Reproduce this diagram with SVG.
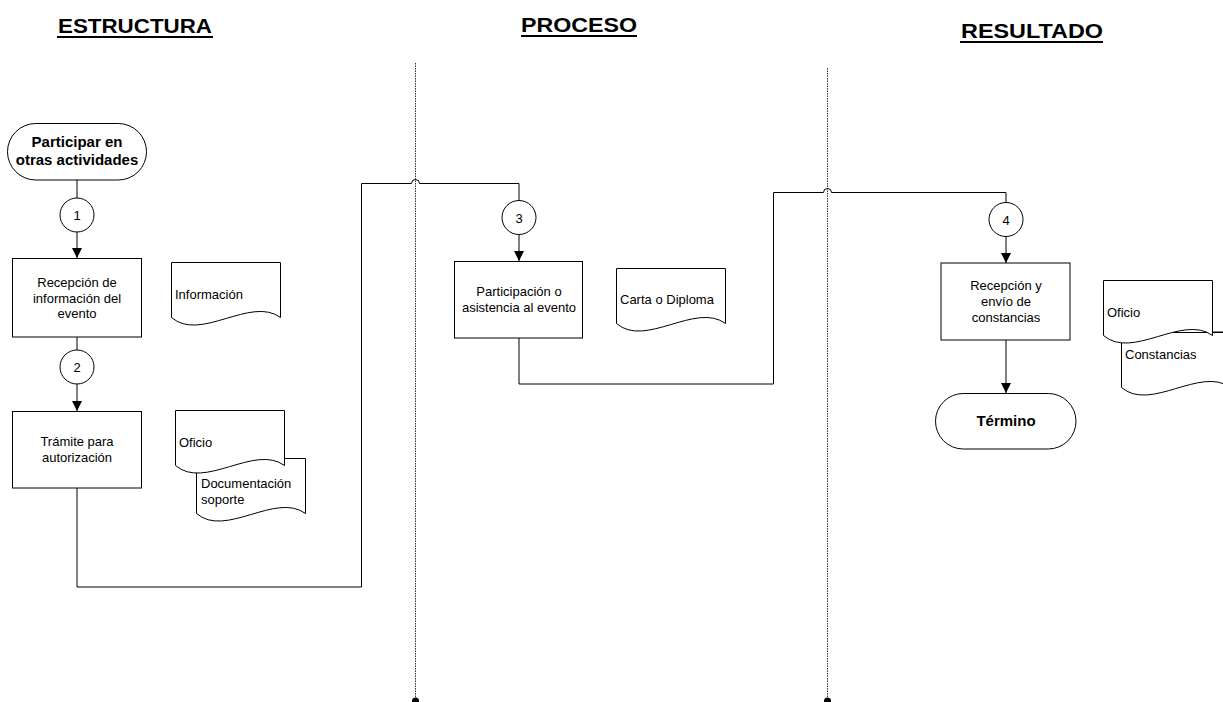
<svg xmlns="http://www.w3.org/2000/svg" xmlns:xlink="http://www.w3.org/1999/xlink" width="1223" height="702" viewBox="0 0 1223 702">
<style>
.t{font-family:"Liberation Sans",Arial,sans-serif;font-size:13px;fill:#000}
.b{font-family:"Liberation Sans",Arial,sans-serif;font-size:15px;font-weight:bold;fill:#000}
.h{font-family:"Liberation Sans",Arial,sans-serif;font-size:21px;font-weight:bold;fill:#000}
.s{fill:#fff;stroke:#000;stroke-width:1}
.c{fill:none;stroke:#000;stroke-width:1}
.d{fill:none;stroke:#333;stroke-width:1;stroke-dasharray:1.5,1}
</style>
<defs>
<marker id="ar" markerWidth="10" markerHeight="10" refX="10" refY="5" orient="auto" markerUnits="userSpaceOnUse">
<path d="M0,0 L10,5 L0,10 Z" fill="#000"/>
</marker>
<path id="doc" d="M0,0 H109 V55 C79,33 29,80 0,55 Z" class="s"/>
</defs>
<rect width="1223" height="702" fill="#fff"/>

<g id="titles">
<text class="h" x="58" y="33" textLength="154" lengthAdjust="spacingAndGlyphs">ESTRUCTURA</text>
<rect x="57" y="36" width="156" height="2" fill="#000"/>
<text class="h" x="521" y="32" textLength="116" lengthAdjust="spacingAndGlyphs">PROCESO</text>
<rect x="521" y="35" width="116" height="2" fill="#000"/>
<text class="h" x="961" y="38" textLength="142" lengthAdjust="spacingAndGlyphs">RESULTADO</text>
<rect x="960" y="41" width="143" height="2" fill="#000"/>
</g>

<g id="lanes">
<line class="d" x1="415.5" y1="63" x2="415.5" y2="700"/>
<circle cx="415.5" cy="701" r="3.5" fill="#000"/>
<line class="d" x1="827.5" y1="68" x2="827.5" y2="700"/>
<circle cx="827.5" cy="701" r="3.5" fill="#000"/>
</g>

<g id="connectors">
<line class="c" x1="77" y1="180" x2="77" y2="198"/>
<line class="c" x1="77" y1="232" x2="77" y2="258" marker-end="url(#ar)"/>
<line class="c" x1="77" y1="337" x2="77" y2="350"/>
<line class="c" x1="77" y1="384" x2="77" y2="411" marker-end="url(#ar)"/>
<path class="c" d="M77,488 V587 H361.5 V183.5 H411.5 A4,4 0 0 1 419.5,183.5 H519 V200.5"/>
<line class="c" x1="519" y1="234.5" x2="519" y2="261" marker-end="url(#ar)"/>
<path class="c" d="M519,338 V384 H773.5 V192.5 H823.5 A4,4 0 0 1 831.5,192.5 H1006 V202.5"/>
<line class="c" x1="1006" y1="236.5" x2="1006" y2="263" marker-end="url(#ar)"/>
<line class="c" x1="1006" y1="340" x2="1006" y2="393" marker-end="url(#ar)"/>
<line class="c" x1="1209" y1="332" x2="1223" y2="332"/>
</g>

<g id="inicio">
<rect class="s" x="7.5" y="123.5" width="139" height="56.5" rx="28.25"/>
<text class="b" x="77" y="147" text-anchor="middle">Participar en</text>
<text class="b" x="77" y="165" text-anchor="middle">otras actividades</text>
</g>

<g id="c1"><circle class="s" cx="77" cy="215" r="17"/><text class="t" x="77" y="220" text-anchor="middle">1</text></g>

<g id="n1">
<rect class="s" x="12.5" y="258.5" width="129" height="78.5"/>
<text class="t" x="77" y="287" text-anchor="middle">Recepción de</text>
<text class="t" x="77" y="303" text-anchor="middle">información del</text>
<text class="t" x="77" y="318" text-anchor="middle">evento</text>
</g>

<g id="doc-informacion">
<use xlink:href="#doc" x="171.5" y="262.5"/>
<text class="t" x="175" y="299">Información</text>
</g>

<g id="c2"><circle class="s" cx="77" cy="367" r="17"/><text class="t" x="77" y="372" text-anchor="middle">2</text></g>

<g id="n2">
<rect class="s" x="12.5" y="411.5" width="129" height="76.5"/>
<text class="t" x="77" y="446" text-anchor="middle">Trámite para</text>
<text class="t" x="77" y="462" text-anchor="middle">autorización</text>
</g>

<g id="doc-documentacion">
<use xlink:href="#doc" x="196.5" y="458.5"/>
<text class="t" x="201" y="488">Documentación</text>
<text class="t" x="201" y="504">soporte</text>
</g>
<g id="doc-oficio1">
<use xlink:href="#doc" x="175.5" y="410.5"/>
<text class="t" x="179" y="447">Oficio</text>
</g>

<g id="c3"><circle class="s" cx="519" cy="217.5" r="17"/><text class="t" x="519" y="222.5" text-anchor="middle">3</text></g>

<g id="n3">
<rect class="s" x="454.5" y="261.5" width="128" height="76.5"/>
<text class="t" x="519" y="296" text-anchor="middle">Participación o</text>
<text class="t" x="519" y="312" text-anchor="middle">asistencia al evento</text>
</g>

<g id="doc-carta">
<use xlink:href="#doc" x="616.5" y="268.5"/>
<text class="t" x="620" y="304">Carta o Diploma</text>
</g>

<g id="c4"><circle class="s" cx="1006" cy="219.5" r="17"/><text class="t" x="1006" y="224.5" text-anchor="middle">4</text></g>

<g id="n4">
<rect class="s" x="941" y="263" width="129" height="77"/>
<text class="t" x="1006" y="290" text-anchor="middle">Recepción y</text>
<text class="t" x="1006" y="306" text-anchor="middle">envío de</text>
<text class="t" x="1006" y="322" text-anchor="middle">constancias</text>
</g>

<g id="termino">
<rect class="s" x="935.5" y="393.5" width="140.5" height="55.5" rx="27.75"/>
<text class="b" x="1006" y="426" text-anchor="middle">Término</text>
</g>

<g id="doc-constancias">
<use xlink:href="#doc" x="1121.5" y="332.5"/>
<text class="t" x="1125" y="359">Constancias</text>
</g>
<g id="doc-oficio2">
<use xlink:href="#doc" x="1103.5" y="280.5" transform="translate(0,0)"/>
<text class="t" x="1107" y="317">Oficio</text>
</g>
</svg>
